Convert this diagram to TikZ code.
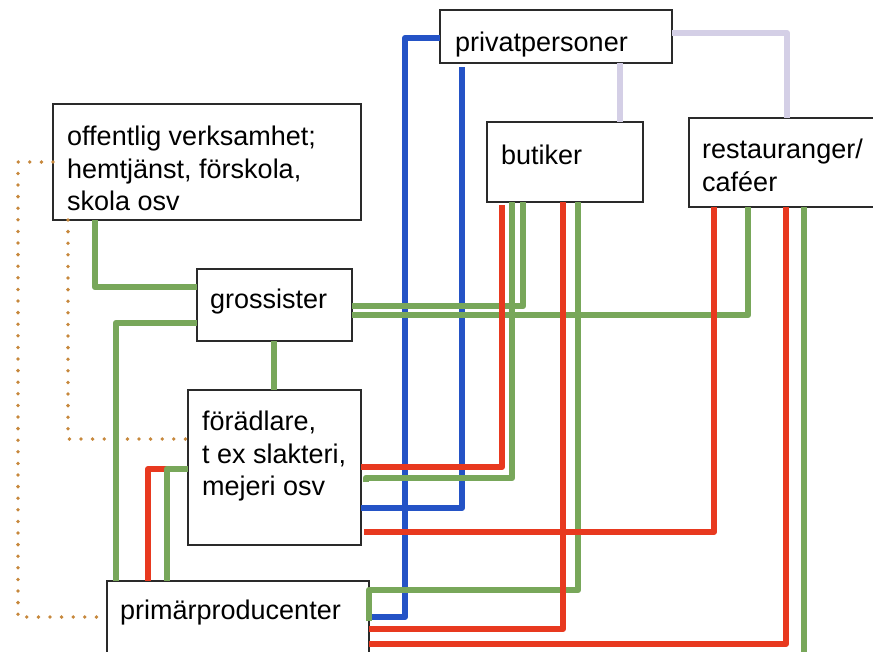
\documentclass[tikz,border=0pt]{standalone}
\usepackage{fontspec}
\setmainfont{Liberation Sans}
\definecolor{lgreen}{HTML}{78A75A}
\definecolor{lred}{HTML}{E8391F}
\definecolor{lblue}{HTML}{2453C6}
\definecolor{lav}{HTML}{D4CFE6}
\definecolor{dotc}{HTML}{C7883C}
\definecolor{boxgray}{HTML}{2A2A2A}
\begin{document}
\begin{tikzpicture}[x=1pt,y=-1pt,
  box/.style={draw=boxgray,line width=1.3pt,fill=white,inner sep=0pt,outer sep=0pt,anchor=north west},
  lbl/.style={anchor=base west,inner sep=0pt,font=\fontsize{27}{33}\selectfont,text=black},
  ln/.style={line width=6pt,line join=round},
  gline/.style={ln,draw=lgreen,line width=6.5pt},
  rline/.style={ln,draw=lred},
  bline/.style={ln,draw=lblue},
  lline/.style={ln,draw=lav},
  dline/.style={draw=dotc,line width=3.8pt,line cap=round,dash pattern=on 0pt off 11.6pt}
]
\useasboundingbox (0,0) rectangle (873,651);
\fill[white] (0,0) rectangle (873,651);

% boxes
\node[box,minimum width=232pt,minimum height=53pt] (priv) at (440,10) {};
\node[box,minimum width=156pt,minimum height=80pt] (but) at (487,122) {};
\node[box,minimum width=192pt,minimum height=89pt] (rest) at (689,118) {};
\node[box,minimum width=308pt,minimum height=116pt] (off) at (53,104) {};
\node[box,minimum width=155pt,minimum height=72pt] (gro) at (197,269) {};
\node[box,minimum width=173pt,minimum height=155pt] (for) at (188,390) {};
\node[box,minimum width=262pt,minimum height=90pt] (prim) at (107,581) {};

% labels
\node[lbl] (tpriv) at (455,51) {privatpersoner};
\node[lbl] (tbut) at (501,164) {butiker};
\node[lbl] (trest1) at (702,158) {restauranger/};
\node[lbl] (trest2) at (702,191) {caféer};
\node[lbl] (toff1) at (67,145) {offentlig verksamhet;};
\node[lbl] (toff2) at (67,178) {hemtjänst, förskola,};
\node[lbl] (toff3) at (67,210) {skola osv};
\node[lbl] (tgro) at (210,308) {grossister};
\node[lbl] (tfor1) at (202,430) {förädlare,};
\node[lbl] (tfor2) at (202,463) {t ex slakteri,};
\node[lbl] (tfor3) at (202,495) {mejeri osv};
\node[lbl] (tprim) at (120,619) {primärproducenter};

% dotted
\draw[dline] (off.west |- 0,162) -| (18,617) -- (prim.west |- 0,617);
\draw[dline] (off.south -| 68,0) |- (for.west |- 0,439);

% lavender
\draw[lline] (priv.south -| 620,0) -- (but.north -| 620,0);
\draw[lline] (priv.east |- 0,33) -| (rest.north -| 787,0);

% blue
\draw[bline] (priv.west |- 0,38) -| (405,617) -- (prim.east |- 0,617);
\draw[bline] ([yshift=-4pt]priv.south -| 462,0) |- (for.east |- 0,508);

% green
\draw[gline] (off.south -| 95,0) |- (gro.west |- 0,287);
\draw[gline] (gro.west |- 0,323) -| (prim.north -| 116,0);
\draw[gline] (gro.south -| 274,0) -- (for.north -| 274,0);
\draw[gline] (gro.east |- 0,306) -| (but.south -| 523,0);
\draw[gline] (gro.east |- 0,315) -| (rest.south -| 748,0);
\draw[gline] (366,482) -- (366,478) -| (but.south -| 512,0);
\draw[gline] (prim.east |- 0,621) -- (prim.east |- 0,590) -| (but.south -| 578,0);
\draw[gline] (rest.south -| 804,0) -- (804,660);

% red
\draw[rline] (prim.north -| 148,0) |- (for.west |- 0,469);
\draw[gline] (prim.north -| 167,0) |- (for.west |- 0,469);
\draw[rline] (for.east |- 0,467) -| ([yshift=-3pt]but.south -| 502,0);
\draw[rline] (364,532) -| (rest.south -| 714,0);
\draw[rline] (prim.east |- 0,629) -| (but.south -| 563,0);
\draw[rline] (prim.east |- 0,644) -| (rest.south -| 786,0);
\end{tikzpicture}
\end{document}
